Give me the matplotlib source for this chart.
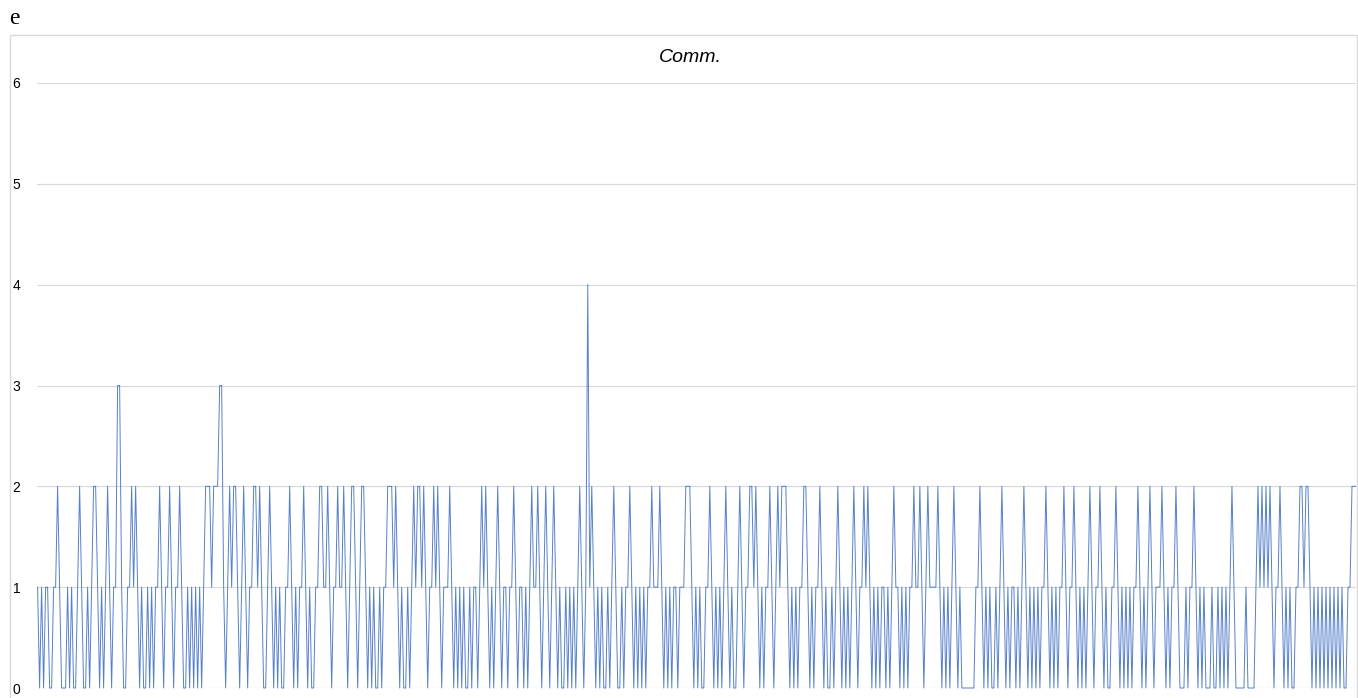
import matplotlib
matplotlib.use("Agg")
import matplotlib.pyplot as plt
from matplotlib.patches import Rectangle

title = "Comm."
panel_label = "e"
y_ticks = [0, 1, 2, 3, 4, 5, 6]

comm_values = [
    1,0,1,0,1,1,0,0,1,1,2,1,0,0,0,1,0,1,0,0,
    1,2,1,0,0,1,0,1,2,2,1,0,1,0,1,2,1,0,1,1,
    3,3,1,0,0,1,1,2,1,2,1,0,1,0,0,1,0,1,0,1,
    1,2,1,0,1,1,2,1,0,1,1,2,1,0,0,1,0,1,0,1,
    0,1,0,1,2,2,2,1,2,2,2,3,3,1,0,1,2,1,2,2,
    1,0,1,2,1,0,1,1,2,2,1,2,1,0,0,1,2,1,0,1,
    0,1,0,0,1,1,2,1,0,1,0,1,1,2,1,0,1,0,0,1,
    1,2,2,1,1,2,1,0,1,1,2,1,1,2,1,0,1,2,2,1,
    0,1,2,2,1,0,1,0,1,0,0,1,0,1,1,2,2,2,1,2,
    1,0,1,0,0,1,0,1,2,1,2,2,1,2,1,0,1,1,2,1,
    2,1,0,1,1,1,2,1,0,1,0,1,0,1,0,0,1,0,1,1,
    0,1,2,1,2,1,0,1,0,1,2,1,0,1,1,0,1,1,2,1,
    0,1,1,0,1,0,1,2,1,1,2,1,0,1,2,1,0,1,2,1,
    0,1,0,0,1,0,1,0,1,0,1,2,1,0,1,4,1,2,1,0,
    1,0,1,0,0,1,0,1,2,1,0,0,1,0,1,1,2,1,0,1,
    0,1,0,1,0,1,1,2,1,1,1,2,1,0,1,0,1,0,1,1,
    0,1,1,1,2,2,2,1,0,1,0,1,0,0,1,1,2,1,0,1,
    0,1,0,1,2,1,0,1,0,0,1,2,1,0,1,1,2,2,1,2,
    1,0,1,0,1,1,2,1,0,1,2,1,2,2,2,1,0,1,0,1,
    0,1,1,2,2,1,0,1,0,1,1,2,1,0,1,0,0,1,0,1,
    2,1,0,1,0,1,0,1,2,1,0,1,1,2,1,2,1,0,1,0,
    1,0,1,1,0,1,0,1,2,1,1,0,1,0,1,0,1,1,2,1,
    1,2,1,0,1,2,1,1,1,1,2,1,0,1,0,1,0,1,2,1,
    0,1,0,0,0,0,0,0,0,1,1,2,1,0,1,0,1,0,0,1,
    0,1,2,1,0,1,0,1,1,0,1,0,1,2,1,0,1,0,1,0,
    1,0,1,1,2,1,0,1,0,1,0,1,1,2,1,0,1,1,2,1,
    0,1,0,1,0,1,2,1,0,1,1,2,1,0,1,0,0,1,1,2,
    1,0,1,0,1,0,1,0,1,1,2,1,0,1,0,1,2,1,0,1,
    1,1,2,1,0,1,0,1,1,2,1,0,0,0,1,0,1,1,2,1,
    0,1,0,1,0,0,0,1,0,0,1,0,1,0,1,0,1,2,1,0,
    0,0,0,0,1,0,0,0,0,1,2,1,2,1,2,1,2,1,0,1,
    1,2,1,0,1,0,1,0,0,1,1,2,2,1,2,2,1,0,1,0,
    1,0,1,0,1,0,1,0,1,0,1,0,1,0,0,1,1,2,2,2,
]

W, H, DPI = 1358, 698, 100
fig = plt.figure(figsize=(W / DPI, H / DPI), dpi=DPI)
fig.patch.set_facecolor("white")

# chart-area border
fig.patches.append(Rectangle((10 / W, -0.01), (1357 - 10) / W, 1 - 35 / H + 0.01,
                             transform=fig.transFigure, fill=False,
                             edgecolor="#D9D9D9", linewidth=1.0))

ax_left, ax_right = 37 / W, 1356 / W
ax_bottom, ax_top = 1 - 688 / H, 1 - 83 / H
ax = fig.add_axes([ax_left, ax_bottom, ax_right - ax_left, ax_top - ax_bottom])
ax.set_facecolor("none")

x = list(range(len(comm_values)))
ax.plot(x, comm_values, color="#4472C4", linewidth=0.7, alpha=0.9,
        clip_on=False, zorder=3)

ax.set_ylim(0, 6)
ax.set_xlim(-0.3, len(comm_values) - 1)
ax.set_yticks(y_ticks)
ax.set_yticklabels([str(v) for v in y_ticks], fontsize=10, family="Liberation Sans",
                   color="#000000")
ax.tick_params(axis="y", length=0, pad=12)
ax.set_xticks([])
ax.grid(axis="y", color="#D9D9D9", linewidth=0.9, zorder=0)
for s in ax.spines.values():
    s.set_visible(False)

fig.text(690 / W, 1 - 57 / H, title, ha="center", va="center", fontsize=14,
         style="italic", family="Liberation Sans")
fig.text(9 / W, 1 - 19 / H, panel_label, ha="left", va="center", fontsize=17,
         family="Liberation Serif")

fig.savefig("out.png", dpi=DPI)
